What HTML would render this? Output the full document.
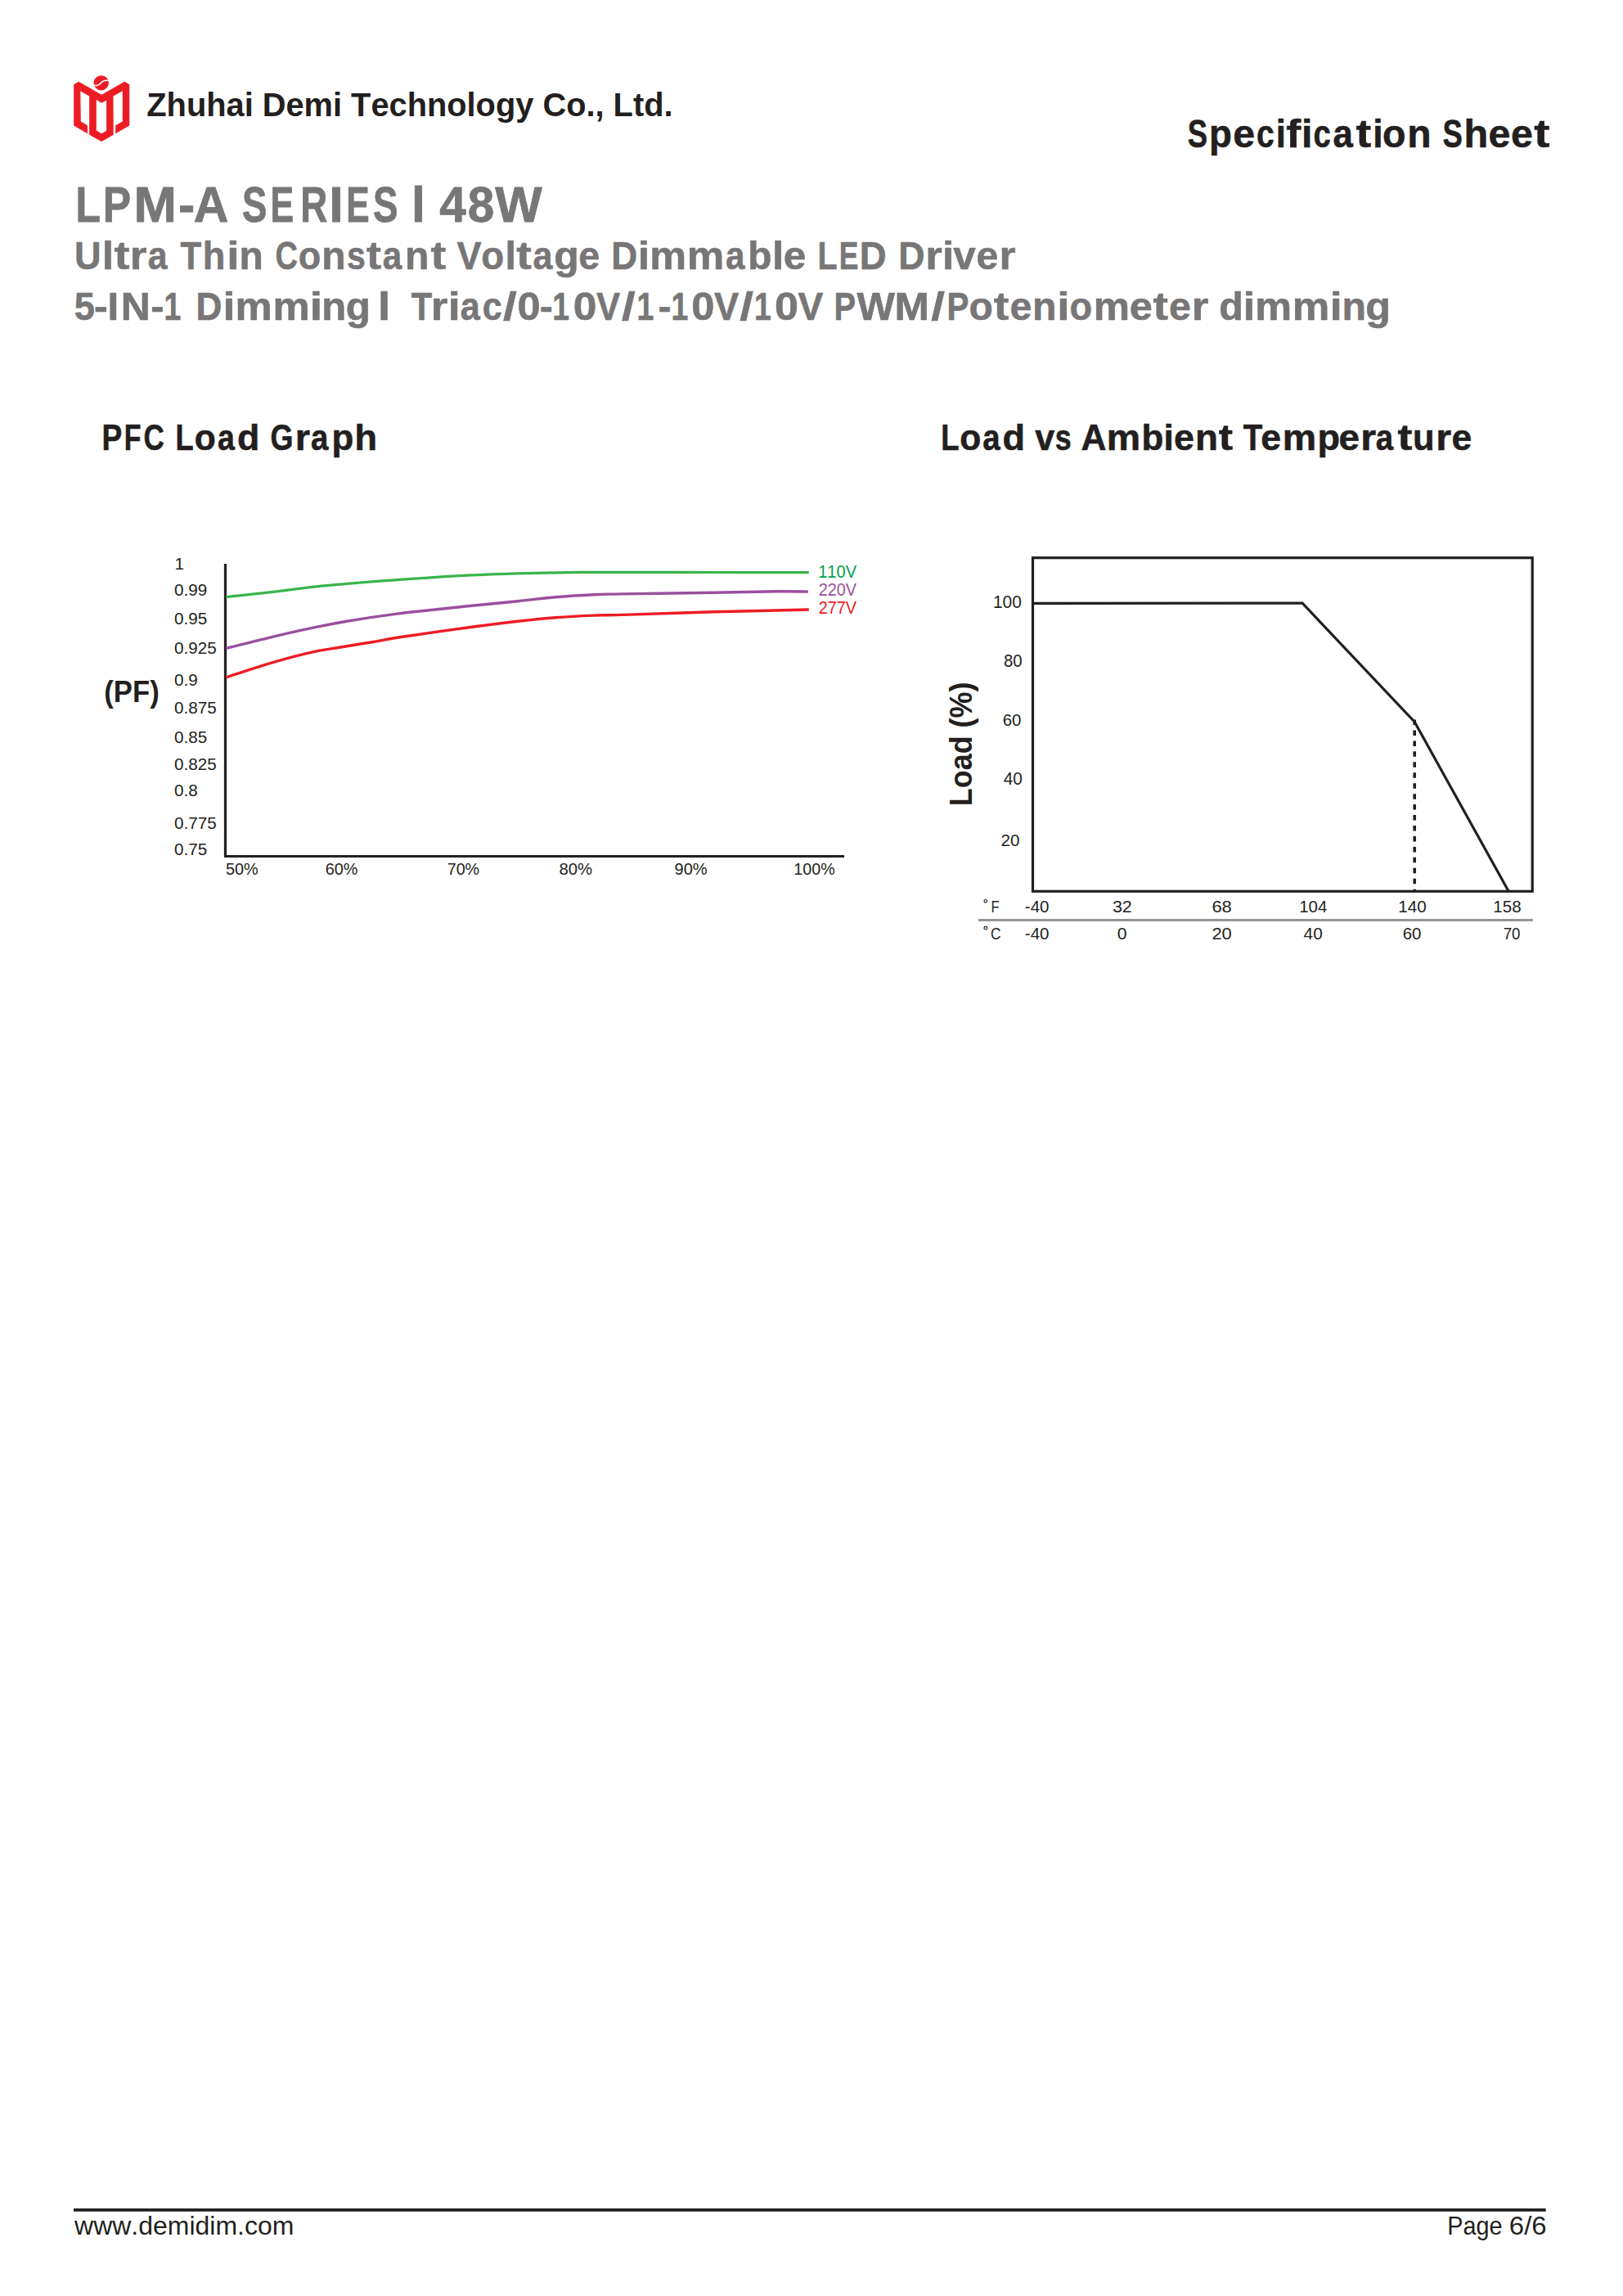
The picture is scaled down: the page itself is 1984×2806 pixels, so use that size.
<!DOCTYPE html>
<html><head><meta charset="utf-8"><title>LPM-A Series 48W Specification Sheet</title>
<style>
html,body{margin:0;padding:0;background:#fff;}
body{width:1984px;height:2806px;overflow:hidden;position:relative;}
svg.page{position:absolute;left:0;top:0;}
svg text{font-family:"Liberation Sans",sans-serif;white-space:pre;font-kerning:none;}
</style></head>
<body>
<svg class="page" width="1984" height="2806" viewBox="0 0 1984 2806">
<svg x="85" y="88" width="80" height="90" viewBox="0 0 1623 1826">
<path fill="#ed1c24" fill-rule="evenodd" d="M105 310 L225 240 L795 565 L1365 240 L1485 310 L1485 1330 L1140 1525 L1140 1325 L1315 1225 L1315 470 L1085 600 L1090 1555 L795 1725 L490 1555 L490 600 L270 470 L280 1225 L445 1325 L445 1525 L105 1330 Z M665 690 L795 765 L915 705 L915 1455 L795 1525 L665 1450 Z"/>
<circle cx="786" cy="271" r="186" fill="#ed1c24"/>
<path d="M595 322 C650 345 705 342 745 305 C780 268 810 232 850 216 C890 203 930 205 985 213" fill="none" stroke="#fff" stroke-width="32"/>
</svg>

<path d="M275.5 689 V1046.5 H1032" fill="none" stroke="#231f20" stroke-width="3.2"/>
<path d="M276.20 729.70 C285.43 728.68 312.10 725.85 331.60 723.60 C351.10 721.35 372.67 718.33 393.20 716.20 C413.73 714.07 434.50 712.40 454.80 710.80 C475.10 709.20 495.53 707.88 515.00 706.60 C534.47 705.32 551.90 704.07 571.60 703.10 C591.30 702.13 612.67 701.38 633.20 700.80 C653.73 700.22 673.67 699.83 694.80 699.60 C715.93 699.37 730.13 699.42 760.00 699.40 C789.87 699.38 835.87 699.47 874.00 699.50 C912.13 699.53 969.67 699.58 988.80 699.60" fill="none" stroke="#39b54a" stroke-width="3.2"/>
<path d="M276.20 792.40 C283.38 790.62 303.90 785.42 319.30 781.70 C334.70 777.98 351.15 773.83 368.60 770.10 C386.05 766.37 404.50 762.63 424.00 759.30 C443.50 755.97 461.00 753.18 485.60 750.10 C510.20 747.02 547.00 743.37 571.60 740.80 C596.20 738.23 615.23 736.55 633.20 734.70 C651.17 732.85 664.00 731.03 679.40 729.70 C694.80 728.37 712.17 727.33 725.60 726.70 C739.03 726.07 735.40 726.32 760.00 725.90 C784.60 725.48 841.50 724.72 873.20 724.20 C904.90 723.68 931.07 722.98 950.20 722.80 C969.33 722.62 981.70 723.05 988.00 723.10" fill="none" stroke="#9b4f9f" stroke-width="3.4"/>
<path d="M276.20 827.90 C285.43 824.93 314.67 815.12 331.60 810.10 C348.53 805.08 363.42 801.03 377.80 797.80 C392.18 794.57 405.07 792.88 417.90 790.70 C430.73 788.52 442.48 786.77 454.80 784.70 C467.12 782.63 472.33 781.25 491.80 778.30 C511.27 775.35 548.03 770.17 571.60 767.00 C595.17 763.83 615.23 761.35 633.20 759.30 C651.17 757.25 664.00 755.90 679.40 754.70 C694.80 753.50 712.17 752.65 725.60 752.10 C739.03 751.55 735.40 752.12 760.00 751.40 C784.60 750.68 835.07 748.87 873.20 747.80 C911.33 746.73 969.53 745.47 988.80 745.00" fill="none" stroke="#ed1c24" stroke-width="3.4"/>
<rect x="1262.5" y="681.7" width="610.7" height="407.6" fill="none" stroke="#231f20" stroke-width="3.2"/>
<line x1="1729.2" y1="879.5" x2="1729.2" y2="1089" stroke="#231f20" stroke-width="3.6" stroke-dasharray="6.5 6.45"/>
<polyline points="1262.5,737.3 1592.1,737.2 1729.2,882.2 1844,1089" fill="none" stroke="#231f20" stroke-width="3.2"/>
<line x1="1196" y1="1124.4" x2="1873.8" y2="1124.4" stroke="#939598" stroke-width="3"/>
<line x1="90" y1="2700.9" x2="1889.7" y2="2700.9" stroke="#231f20" stroke-width="3.6"/>
<circle cx="1204.8" cy="1101.3" r="1.8" fill="none" stroke="#231f20" stroke-width="1.2"/>
<circle cx="1204.8" cy="1134.2" r="1.8" fill="none" stroke="#231f20" stroke-width="1.2"/>

<text transform="translate(179.31 142.00) scale(0.9707 1)" font-size="41.00" font-weight="bold" fill="#231f20">Zhuhai Demi Technology Co., Ltd.</text>
<text transform="translate(1451.66 180.30) scale(0.7726 1)" font-size="47.26" font-weight="bold" fill="#231f20" stroke="#231f20" stroke-width="0.60" stroke-linejoin="round">S</text>
<text transform="translate(1477.99 180.30) scale(0.9658 1)" font-size="47.26" font-weight="bold" fill="#231f20" stroke="#231f20" stroke-width="0.60" stroke-linejoin="round">p</text>
<text transform="translate(1507.32 180.30) scale(1.0209 1)" font-size="47.26" font-weight="bold" fill="#231f20" stroke="#231f20" stroke-width="0.60" stroke-linejoin="round">e</text>
<text transform="translate(1535.88 180.30) scale(0.8242 1)" font-size="47.26" font-weight="bold" fill="#231f20" stroke="#231f20" stroke-width="0.60" stroke-linejoin="round">c</text>
<text transform="translate(1559.65 180.30) scale(0.9253 1)" font-size="47.26" font-weight="bold" fill="#231f20" stroke="#231f20" stroke-width="0.60" stroke-linejoin="round">i</text>
<text transform="translate(1572.28 180.30) scale(1.1382 1)" font-size="47.26" font-weight="bold" fill="#231f20" stroke="#231f20" stroke-width="0.60" stroke-linejoin="round">f</text>
<text transform="translate(1591.04 180.30) scale(1.0178 1)" font-size="47.26" font-weight="bold" fill="#231f20" stroke="#231f20" stroke-width="0.60" stroke-linejoin="round">i</text>
<text transform="translate(1605.50 180.30) scale(0.8111 1)" font-size="47.26" font-weight="bold" fill="#231f20" stroke="#231f20" stroke-width="0.60" stroke-linejoin="round">c</text>
<text transform="translate(1629.62 180.30) scale(0.9246 1)" font-size="47.26" font-weight="bold" fill="#231f20" stroke="#231f20" stroke-width="0.60" stroke-linejoin="round">a</text>
<text transform="translate(1657.42 180.30) scale(1.1862 1)" font-size="47.26" font-weight="bold" fill="#231f20" stroke="#231f20" stroke-width="0.60" stroke-linejoin="round">t</text>
<text transform="translate(1678.20 180.30) scale(0.9407 1)" font-size="47.26" font-weight="bold" fill="#231f20" stroke="#231f20" stroke-width="0.60" stroke-linejoin="round">i</text>
<text transform="translate(1690.08 180.30) scale(0.9850 1)" font-size="47.26" font-weight="bold" fill="#231f20" stroke="#231f20" stroke-width="0.60" stroke-linejoin="round">o</text>
<text transform="translate(1720.33 180.30) scale(1.0165 1)" font-size="47.26" font-weight="bold" fill="#231f20" stroke="#231f20" stroke-width="0.60" stroke-linejoin="round">n</text>
<text transform="translate(1763.56 180.30) scale(0.7726 1)" font-size="47.26" font-weight="bold" fill="#231f20" stroke="#231f20" stroke-width="0.60" stroke-linejoin="round">S</text>
<text transform="translate(1789.40 180.30) scale(1.0292 1)" font-size="47.26" font-weight="bold" fill="#231f20" stroke="#231f20" stroke-width="0.60" stroke-linejoin="round">h</text>
<text transform="translate(1819.42 180.30) scale(1.0209 1)" font-size="47.26" font-weight="bold" fill="#231f20" stroke="#231f20" stroke-width="0.60" stroke-linejoin="round">e</text>
<text transform="translate(1847.12 180.30) scale(1.0209 1)" font-size="47.26" font-weight="bold" fill="#231f20" stroke="#231f20" stroke-width="0.60" stroke-linejoin="round">e</text>
<text transform="translate(1875.30 180.30) scale(1.2205 1)" font-size="47.26" font-weight="bold" fill="#231f20" stroke="#231f20" stroke-width="0.60" stroke-linejoin="round">t</text>
<text transform="translate(92.48 270.59) scale(0.8130 1)" font-size="61.31" font-weight="bold" fill="#787677" stroke="#787677" stroke-width="0.82" stroke-linejoin="round">L</text>
<text transform="translate(125.86 270.59) scale(0.8410 1)" font-size="61.31" font-weight="bold" fill="#787677" stroke="#787677" stroke-width="0.82" stroke-linejoin="round">P</text>
<text transform="translate(163.45 270.59) scale(1.0260 1)" font-size="61.31" font-weight="bold" fill="#787677" stroke="#787677" stroke-width="0.82" stroke-linejoin="round">M</text>
<text transform="translate(218.04 270.59) scale(0.9880 1)" font-size="61.31" font-weight="bold" fill="#787677" stroke="#787677" stroke-width="0.82" stroke-linejoin="round">-</text>
<text transform="translate(236.64 270.59) scale(0.9623 1)" font-size="61.31" font-weight="bold" fill="#787677" stroke="#787677" stroke-width="0.82" stroke-linejoin="round">A</text>
<text transform="translate(296.00 270.59) scale(0.7427 1)" font-size="61.31" font-weight="bold" fill="#787677" stroke="#787677" stroke-width="0.82" stroke-linejoin="round">S</text>
<text transform="translate(330.53 270.59) scale(0.7030 1)" font-size="61.31" font-weight="bold" fill="#787677" stroke="#787677" stroke-width="0.82" stroke-linejoin="round">E</text>
<text transform="translate(367.15 270.59) scale(0.7472 1)" font-size="61.31" font-weight="bold" fill="#787677" stroke="#787677" stroke-width="0.82" stroke-linejoin="round">R</text>
<text transform="translate(402.31 270.59) scale(1.0260 1)" font-size="61.31" font-weight="bold" fill="#787677" stroke="#787677" stroke-width="0.82" stroke-linejoin="round">I</text>
<text transform="translate(423.26 270.59) scale(0.6943 1)" font-size="61.31" font-weight="bold" fill="#787677" stroke="#787677" stroke-width="0.82" stroke-linejoin="round">E</text>
<text transform="translate(455.99 270.59) scale(0.7454 1)" font-size="61.31" font-weight="bold" fill="#787677" stroke="#787677" stroke-width="0.82" stroke-linejoin="round">S</text>
<text transform="translate(502.95 270.59) scale(0.9962 1)" font-size="61.31" font-weight="bold" fill="#787677" stroke="#787677" stroke-width="0.82" stroke-linejoin="round">l</text>
<text transform="translate(537.22 270.59) scale(0.9555 1)" font-size="61.31" font-weight="bold" fill="#787677" stroke="#787677" stroke-width="0.82" stroke-linejoin="round">4</text>
<text transform="translate(571.76 270.59) scale(0.9509 1)" font-size="61.31" font-weight="bold" fill="#787677" stroke="#787677" stroke-width="0.82" stroke-linejoin="round">8</text>
<text transform="translate(605.15 270.59) scale(0.9936 1)" font-size="61.31" font-weight="bold" fill="#787677" stroke="#787677" stroke-width="0.82" stroke-linejoin="round">W</text>
<text transform="translate(91.09 329.00) scale(0.9204 1)" font-size="48.98" font-weight="bold" fill="#787677" stroke="#787677" stroke-width="0.60" stroke-linejoin="round">U</text>
<text transform="translate(124.79 329.00) scale(1.0564 1)" font-size="48.98" font-weight="bold" fill="#787677" stroke="#787677" stroke-width="0.60" stroke-linejoin="round">l</text>
<text transform="translate(139.49 329.00) scale(1.1605 1)" font-size="48.98" font-weight="bold" fill="#787677" stroke="#787677" stroke-width="0.60" stroke-linejoin="round">t</text>
<text transform="translate(158.79 329.00) scale(1.0867 1)" font-size="48.98" font-weight="bold" fill="#787677" stroke="#787677" stroke-width="0.60" stroke-linejoin="round">r</text>
<text transform="translate(180.75 329.00) scale(0.8730 1)" font-size="48.98" font-weight="bold" fill="#787677" stroke="#787677" stroke-width="0.60" stroke-linejoin="round">a</text>
<text transform="translate(220.43 329.00) scale(0.8598 1)" font-size="48.98" font-weight="bold" fill="#787677" stroke="#787677" stroke-width="0.60" stroke-linejoin="round">T</text>
<text transform="translate(247.74 329.00) scale(0.9249 1)" font-size="48.98" font-weight="bold" fill="#787677" stroke="#787677" stroke-width="0.60" stroke-linejoin="round">h</text>
<text transform="translate(277.33 329.00) scale(1.1308 1)" font-size="48.98" font-weight="bold" fill="#787677" stroke="#787677" stroke-width="0.60" stroke-linejoin="round">i</text>
<text transform="translate(292.43 329.00) scale(0.9808 1)" font-size="48.98" font-weight="bold" fill="#787677" stroke="#787677" stroke-width="0.60" stroke-linejoin="round">n</text>
<text transform="translate(336.44 329.00) scale(0.7744 1)" font-size="48.98" font-weight="bold" fill="#787677" stroke="#787677" stroke-width="0.60" stroke-linejoin="round">C</text>
<text transform="translate(364.74 329.00) scale(0.9197 1)" font-size="48.98" font-weight="bold" fill="#787677" stroke="#787677" stroke-width="0.60" stroke-linejoin="round">o</text>
<text transform="translate(393.32 329.00) scale(0.9850 1)" font-size="48.98" font-weight="bold" fill="#787677" stroke="#787677" stroke-width="0.60" stroke-linejoin="round">n</text>
<text transform="translate(424.06 329.00) scale(0.8379 1)" font-size="48.98" font-weight="bold" fill="#787677" stroke="#787677" stroke-width="0.60" stroke-linejoin="round">s</text>
<text transform="translate(447.94 329.00) scale(1.1048 1)" font-size="48.98" font-weight="bold" fill="#787677" stroke="#787677" stroke-width="0.60" stroke-linejoin="round">t</text>
<text transform="translate(467.66 329.00) scale(0.8615 1)" font-size="48.98" font-weight="bold" fill="#787677" stroke="#787677" stroke-width="0.60" stroke-linejoin="round">a</text>
<text transform="translate(495.02 329.00) scale(0.9850 1)" font-size="48.98" font-weight="bold" fill="#787677" stroke="#787677" stroke-width="0.60" stroke-linejoin="round">n</text>
<text transform="translate(526.51 329.00) scale(1.1511 1)" font-size="48.98" font-weight="bold" fill="#787677" stroke="#787677" stroke-width="0.60" stroke-linejoin="round">t</text>
<text transform="translate(558.49 329.00) scale(0.9187 1)" font-size="48.98" font-weight="bold" fill="#787677" stroke="#787677" stroke-width="0.60" stroke-linejoin="round">V</text>
<text transform="translate(588.21 329.00) scale(0.9351 1)" font-size="48.98" font-weight="bold" fill="#787677" stroke="#787677" stroke-width="0.60" stroke-linejoin="round">o</text>
<text transform="translate(617.39 329.00) scale(0.9969 1)" font-size="48.98" font-weight="bold" fill="#787677" stroke="#787677" stroke-width="0.60" stroke-linejoin="round">l</text>
<text transform="translate(631.22 329.00) scale(1.1379 1)" font-size="48.98" font-weight="bold" fill="#787677" stroke="#787677" stroke-width="0.60" stroke-linejoin="round">t</text>
<text transform="translate(651.44 329.00) scale(0.8806 1)" font-size="48.98" font-weight="bold" fill="#787677" stroke="#787677" stroke-width="0.60" stroke-linejoin="round">a</text>
<text transform="translate(677.35 329.00) scale(1.0189 1)" font-size="48.98" font-weight="bold" fill="#787677" stroke="#787677" stroke-width="0.60" stroke-linejoin="round">g</text>
<text transform="translate(707.18 329.00) scale(0.9512 1)" font-size="48.98" font-weight="bold" fill="#787677" stroke="#787677" stroke-width="0.60" stroke-linejoin="round">e</text>
<text transform="translate(747.34 329.00) scale(0.9021 1)" font-size="48.98" font-weight="bold" fill="#787677" stroke="#787677" stroke-width="0.60" stroke-linejoin="round">D</text>
<text transform="translate(779.79 329.00) scale(1.0564 1)" font-size="48.98" font-weight="bold" fill="#787677" stroke="#787677" stroke-width="0.60" stroke-linejoin="round">i</text>
<text transform="translate(794.27 329.00) scale(1.0298 1)" font-size="48.98" font-weight="bold" fill="#787677" stroke="#787677" stroke-width="0.60" stroke-linejoin="round">m</text>
<text transform="translate(839.82 329.00) scale(1.0459 1)" font-size="48.98" font-weight="bold" fill="#787677" stroke="#787677" stroke-width="0.60" stroke-linejoin="round">m</text>
<text transform="translate(886.96 329.00) scale(0.8615 1)" font-size="48.98" font-weight="bold" fill="#787677" stroke="#787677" stroke-width="0.60" stroke-linejoin="round">a</text>
<text transform="translate(914.25 329.00) scale(0.9764 1)" font-size="48.98" font-weight="bold" fill="#787677" stroke="#787677" stroke-width="0.60" stroke-linejoin="round">b</text>
<text transform="translate(943.89 329.00) scale(1.0564 1)" font-size="48.98" font-weight="bold" fill="#787677" stroke="#787677" stroke-width="0.60" stroke-linejoin="round">l</text>
<text transform="translate(957.86 329.00) scale(1.0146 1)" font-size="48.98" font-weight="bold" fill="#787677" stroke="#787677" stroke-width="0.60" stroke-linejoin="round">e</text>
<text transform="translate(999.57 329.00) scale(0.8036 1)" font-size="48.98" font-weight="bold" fill="#787677" stroke="#787677" stroke-width="0.60" stroke-linejoin="round">L</text>
<text transform="translate(1025.80 329.00) scale(0.7229 1)" font-size="48.98" font-weight="bold" fill="#787677" stroke="#787677" stroke-width="0.60" stroke-linejoin="round">E</text>
<text transform="translate(1050.76 329.00) scale(0.9287 1)" font-size="48.98" font-weight="bold" fill="#787677" stroke="#787677" stroke-width="0.60" stroke-linejoin="round">D</text>
<text transform="translate(1098.31 329.00) scale(0.9121 1)" font-size="48.98" font-weight="bold" fill="#787677" stroke="#787677" stroke-width="0.60" stroke-linejoin="round">D</text>
<text transform="translate(1131.21 329.00) scale(1.0800 1)" font-size="48.98" font-weight="bold" fill="#787677" stroke="#787677" stroke-width="0.60" stroke-linejoin="round">r</text>
<text transform="translate(1151.89 329.00) scale(1.0564 1)" font-size="48.98" font-weight="bold" fill="#787677" stroke="#787677" stroke-width="0.60" stroke-linejoin="round">i</text>
<text transform="translate(1165.31 329.00) scale(1.0099 1)" font-size="48.98" font-weight="bold" fill="#787677" stroke="#787677" stroke-width="0.60" stroke-linejoin="round">v</text>
<text transform="translate(1193.62 329.00) scale(0.9850 1)" font-size="48.98" font-weight="bold" fill="#787677" stroke="#787677" stroke-width="0.60" stroke-linejoin="round">e</text>
<text transform="translate(1221.40 329.00) scale(1.0535 1)" font-size="48.98" font-weight="bold" fill="#787677" stroke="#787677" stroke-width="0.60" stroke-linejoin="round">r</text>
<text transform="translate(90.81 390.70) scale(0.9485 1)" font-size="47.68" font-weight="bold" fill="#787677" stroke="#787677" stroke-width="0.60" stroke-linejoin="round">5</text>
<text transform="translate(114.93 390.70) scale(1.0574 1)" font-size="47.68" font-weight="bold" fill="#787677" stroke="#787677" stroke-width="0.60" stroke-linejoin="round">-</text>
<text transform="translate(131.60 390.70) scale(1.0339 1)" font-size="47.68" font-weight="bold" fill="#787677" stroke="#787677" stroke-width="0.60" stroke-linejoin="round">I</text>
<text transform="translate(147.87 390.70) scale(1.0454 1)" font-size="47.68" font-weight="bold" fill="#787677" stroke="#787677" stroke-width="0.60" stroke-linejoin="round">N</text>
<text transform="translate(184.28 390.70) scale(1.0326 1)" font-size="47.68" font-weight="bold" fill="#787677" stroke="#787677" stroke-width="0.60" stroke-linejoin="round">-</text>
<text transform="translate(200.48 390.70) scale(0.7853 1)" font-size="47.68" font-weight="bold" fill="#787677" stroke="#787677" stroke-width="0.60" stroke-linejoin="round">1</text>
<text transform="translate(239.44 390.70) scale(0.9269 1)" font-size="47.68" font-weight="bold" fill="#787677" stroke="#787677" stroke-width="0.60" stroke-linejoin="round">D</text>
<text transform="translate(272.53 390.70) scale(1.1313 1)" font-size="47.68" font-weight="bold" fill="#787677" stroke="#787677" stroke-width="0.60" stroke-linejoin="round">i</text>
<text transform="translate(287.55 390.70) scale(1.0664 1)" font-size="47.68" font-weight="bold" fill="#787677" stroke="#787677" stroke-width="0.60" stroke-linejoin="round">m</text>
<text transform="translate(333.45 390.70) scale(1.0664 1)" font-size="47.68" font-weight="bold" fill="#787677" stroke="#787677" stroke-width="0.60" stroke-linejoin="round">m</text>
<text transform="translate(378.73 390.70) scale(1.1618 1)" font-size="47.68" font-weight="bold" fill="#787677" stroke="#787677" stroke-width="0.60" stroke-linejoin="round">i</text>
<text transform="translate(393.26 390.70) scale(1.0294 1)" font-size="47.68" font-weight="bold" fill="#787677" stroke="#787677" stroke-width="0.60" stroke-linejoin="round">n</text>
<text transform="translate(422.68 390.70) scale(1.0343 1)" font-size="47.68" font-weight="bold" fill="#787677" stroke="#787677" stroke-width="0.60" stroke-linejoin="round">g</text>
<text transform="translate(461.98 390.70) scale(1.1465 1)" font-size="47.68" font-weight="bold" fill="#787677" stroke="#787677" stroke-width="0.60" stroke-linejoin="round">l</text>
<text transform="translate(502.73 390.70) scale(0.8727 1)" font-size="47.68" font-weight="bold" fill="#787677" stroke="#787677" stroke-width="0.60" stroke-linejoin="round">T</text>
<text transform="translate(526.71 390.70) scale(1.1097 1)" font-size="47.68" font-weight="bold" fill="#787677" stroke="#787677" stroke-width="0.60" stroke-linejoin="round">r</text>
<text transform="translate(547.73 390.70) scale(1.1313 1)" font-size="47.68" font-weight="bold" fill="#787677" stroke="#787677" stroke-width="0.60" stroke-linejoin="round">i</text>
<text transform="translate(562.84 390.70) scale(0.9048 1)" font-size="47.68" font-weight="bold" fill="#787677" stroke="#787677" stroke-width="0.60" stroke-linejoin="round">a</text>
<text transform="translate(589.82 390.70) scale(0.9030 1)" font-size="47.68" font-weight="bold" fill="#787677" stroke="#787677" stroke-width="0.60" stroke-linejoin="round">c</text>
<text transform="translate(615.05 390.70) scale(1.2606 1)" font-size="47.68" font-weight="bold" fill="#787677" stroke="#787677" stroke-width="0.60" stroke-linejoin="round">/</text>
<text transform="translate(632.60 390.70) scale(1.0629 1)" font-size="47.68" font-weight="bold" fill="#787677" stroke="#787677" stroke-width="0.60" stroke-linejoin="round">0</text>
<text transform="translate(659.72 390.70) scale(1.0078 1)" font-size="47.68" font-weight="bold" fill="#787677" stroke="#787677" stroke-width="0.60" stroke-linejoin="round">-</text>
<text transform="translate(675.18 390.70) scale(0.7853 1)" font-size="47.68" font-weight="bold" fill="#787677" stroke="#787677" stroke-width="0.60" stroke-linejoin="round">1</text>
<text transform="translate(700.66 390.70) scale(1.0805 1)" font-size="47.68" font-weight="bold" fill="#787677" stroke="#787677" stroke-width="0.60" stroke-linejoin="round">0</text>
<text transform="translate(729.10 390.70) scale(0.9182 1)" font-size="47.68" font-weight="bold" fill="#787677" stroke="#787677" stroke-width="0.60" stroke-linejoin="round">V</text>
<text transform="translate(760.00 390.70) scale(1.2606 1)" font-size="47.68" font-weight="bold" fill="#787677" stroke="#787677" stroke-width="0.60" stroke-linejoin="round">/</text>
<text transform="translate(778.48 390.70) scale(0.7853 1)" font-size="47.68" font-weight="bold" fill="#787677" stroke="#787677" stroke-width="0.60" stroke-linejoin="round">1</text>
<text transform="translate(804.62 390.70) scale(1.0078 1)" font-size="47.68" font-weight="bold" fill="#787677" stroke="#787677" stroke-width="0.60" stroke-linejoin="round">-</text>
<text transform="translate(820.53 390.70) scale(0.7853 1)" font-size="47.68" font-weight="bold" fill="#787677" stroke="#787677" stroke-width="0.60" stroke-linejoin="round">1</text>
<text transform="translate(845.30 390.70) scale(1.0629 1)" font-size="47.68" font-weight="bold" fill="#787677" stroke="#787677" stroke-width="0.60" stroke-linejoin="round">0</text>
<text transform="translate(872.89 390.70) scale(0.9535 1)" font-size="47.68" font-weight="bold" fill="#787677" stroke="#787677" stroke-width="0.60" stroke-linejoin="round">V</text>
<text transform="translate(904.35 390.70) scale(1.2606 1)" font-size="47.68" font-weight="bold" fill="#787677" stroke="#787677" stroke-width="0.60" stroke-linejoin="round">/</text>
<text transform="translate(921.98 390.70) scale(0.7853 1)" font-size="47.68" font-weight="bold" fill="#787677" stroke="#787677" stroke-width="0.60" stroke-linejoin="round">1</text>
<text transform="translate(946.94 390.70) scale(1.0938 1)" font-size="47.68" font-weight="bold" fill="#787677" stroke="#787677" stroke-width="0.60" stroke-linejoin="round">0</text>
<text transform="translate(975.58 390.70) scale(0.9696 1)" font-size="47.68" font-weight="bold" fill="#787677" stroke="#787677" stroke-width="0.60" stroke-linejoin="round">V</text>
<text transform="translate(1019.54 390.70) scale(0.8339 1)" font-size="47.68" font-weight="bold" fill="#787677" stroke="#787677" stroke-width="0.60" stroke-linejoin="round">P</text>
<text transform="translate(1047.55 390.70) scale(1.0333 1)" font-size="47.68" font-weight="bold" fill="#787677" stroke="#787677" stroke-width="0.60" stroke-linejoin="round">W</text>
<text transform="translate(1093.49 390.70) scale(1.0679 1)" font-size="47.68" font-weight="bold" fill="#787677" stroke="#787677" stroke-width="0.60" stroke-linejoin="round">M</text>
<text transform="translate(1138.35 390.70) scale(1.2606 1)" font-size="47.68" font-weight="bold" fill="#787677" stroke="#787677" stroke-width="0.60" stroke-linejoin="round">/</text>
<text transform="translate(1157.40 390.70) scale(0.8451 1)" font-size="47.68" font-weight="bold" fill="#787677" stroke="#787677" stroke-width="0.60" stroke-linejoin="round">P</text>
<text transform="translate(1184.42 390.70) scale(1.0080 1)" font-size="47.68" font-weight="bold" fill="#787677" stroke="#787677" stroke-width="0.60" stroke-linejoin="round">o</text>
<text transform="translate(1214.82 390.70) scale(1.1691 1)" font-size="47.68" font-weight="bold" fill="#787677" stroke="#787677" stroke-width="0.60" stroke-linejoin="round">t</text>
<text transform="translate(1234.42 390.70) scale(1.0120 1)" font-size="47.68" font-weight="bold" fill="#787677" stroke="#787677" stroke-width="0.60" stroke-linejoin="round">e</text>
<text transform="translate(1262.12 390.70) scale(1.0120 1)" font-size="47.68" font-weight="bold" fill="#787677" stroke="#787677" stroke-width="0.60" stroke-linejoin="round">n</text>
<text transform="translate(1292.23 390.70) scale(1.1618 1)" font-size="47.68" font-weight="bold" fill="#787677" stroke="#787677" stroke-width="0.60" stroke-linejoin="round">i</text>
<text transform="translate(1307.43 390.70) scale(0.9489 1)" font-size="47.68" font-weight="bold" fill="#787677" stroke="#787677" stroke-width="0.60" stroke-linejoin="round">o</text>
<text transform="translate(1336.72 390.70) scale(1.0443 1)" font-size="47.68" font-weight="bold" fill="#787677" stroke="#787677" stroke-width="0.60" stroke-linejoin="round">m</text>
<text transform="translate(1380.83 390.70) scale(1.0598 1)" font-size="47.68" font-weight="bold" fill="#787677" stroke="#787677" stroke-width="0.60" stroke-linejoin="round">e</text>
<text transform="translate(1409.42 390.70) scale(1.1623 1)" font-size="47.68" font-weight="bold" fill="#787677" stroke="#787677" stroke-width="0.60" stroke-linejoin="round">t</text>
<text transform="translate(1429.02 390.70) scale(1.0120 1)" font-size="47.68" font-weight="bold" fill="#787677" stroke="#787677" stroke-width="0.60" stroke-linejoin="round">e</text>
<text transform="translate(1456.71 390.70) scale(1.1097 1)" font-size="47.68" font-weight="bold" fill="#787677" stroke="#787677" stroke-width="0.60" stroke-linejoin="round">r</text>
<text transform="translate(1490.31 390.70) scale(1.0157 1)" font-size="47.68" font-weight="bold" fill="#787677" stroke="#787677" stroke-width="0.60" stroke-linejoin="round">d</text>
<text transform="translate(1519.79 390.70) scale(1.0854 1)" font-size="47.68" font-weight="bold" fill="#787677" stroke="#787677" stroke-width="0.60" stroke-linejoin="round">i</text>
<text transform="translate(1534.27 390.70) scale(1.0581 1)" font-size="47.68" font-weight="bold" fill="#787677" stroke="#787677" stroke-width="0.60" stroke-linejoin="round">m</text>
<text transform="translate(1579.82 390.70) scale(1.0746 1)" font-size="47.68" font-weight="bold" fill="#787677" stroke="#787677" stroke-width="0.60" stroke-linejoin="round">m</text>
<text transform="translate(1625.63 390.70) scale(1.1313 1)" font-size="47.68" font-weight="bold" fill="#787677" stroke="#787677" stroke-width="0.60" stroke-linejoin="round">i</text>
<text transform="translate(1640.42 390.70) scale(1.0120 1)" font-size="47.68" font-weight="bold" fill="#787677" stroke="#787677" stroke-width="0.60" stroke-linejoin="round">n</text>
<text transform="translate(1669.24 390.70) scale(1.0552 1)" font-size="47.68" font-weight="bold" fill="#787677" stroke="#787677" stroke-width="0.60" stroke-linejoin="round">g</text>
<text transform="translate(124.52 549.70) scale(0.8316 1)" font-size="44.62" font-weight="bold" fill="#231f20" stroke="#231f20" stroke-width="0.60" stroke-linejoin="round">P</text>
<text transform="translate(151.83 549.70) scale(0.7598 1)" font-size="44.62" font-weight="bold" fill="#231f20" stroke="#231f20" stroke-width="0.60" stroke-linejoin="round">F</text>
<text transform="translate(175.46 549.70) scale(0.7849 1)" font-size="44.62" font-weight="bold" fill="#231f20" stroke="#231f20" stroke-width="0.60" stroke-linejoin="round">C</text>
<text transform="translate(214.58 549.70) scale(0.8122 1)" font-size="44.62" font-weight="bold" fill="#231f20" stroke="#231f20" stroke-width="0.60" stroke-linejoin="round">L</text>
<text transform="translate(237.84 549.70) scale(0.9549 1)" font-size="44.62" font-weight="bold" fill="#231f20" stroke="#231f20" stroke-width="0.60" stroke-linejoin="round">o</text>
<text transform="translate(266.10 549.70) scale(0.8406 1)" font-size="44.62" font-weight="bold" fill="#231f20" stroke="#231f20" stroke-width="0.60" stroke-linejoin="round">a</text>
<text transform="translate(289.97 549.70) scale(1.0006 1)" font-size="44.62" font-weight="bold" fill="#231f20" stroke="#231f20" stroke-width="0.60" stroke-linejoin="round">d</text>
<text transform="translate(330.42 549.70) scale(0.8070 1)" font-size="44.62" font-weight="bold" fill="#231f20" stroke="#231f20" stroke-width="0.60" stroke-linejoin="round">G</text>
<text transform="translate(360.63 549.70) scale(1.0511 1)" font-size="44.62" font-weight="bold" fill="#231f20" stroke="#231f20" stroke-width="0.60" stroke-linejoin="round">r</text>
<text transform="translate(380.07 549.70) scale(0.8616 1)" font-size="44.62" font-weight="bold" fill="#231f20" stroke="#231f20" stroke-width="0.60" stroke-linejoin="round">a</text>
<text transform="translate(405.51 549.70) scale(0.9828 1)" font-size="44.62" font-weight="bold" fill="#231f20" stroke="#231f20" stroke-width="0.60" stroke-linejoin="round">p</text>
<text transform="translate(433.55 549.70) scale(1.0105 1)" font-size="44.62" font-weight="bold" fill="#231f20" stroke="#231f20" stroke-width="0.60" stroke-linejoin="round">h</text>
<text transform="translate(1150.36 549.70) scale(0.8166 1)" font-size="44.62" font-weight="bold" fill="#231f20" stroke="#231f20" stroke-width="0.60" stroke-linejoin="round">L</text>
<text transform="translate(1173.34 549.70) scale(0.9549 1)" font-size="44.62" font-weight="bold" fill="#231f20" stroke="#231f20" stroke-width="0.60" stroke-linejoin="round">o</text>
<text transform="translate(1201.27 549.70) scale(0.8616 1)" font-size="44.62" font-weight="bold" fill="#231f20" stroke="#231f20" stroke-width="0.60" stroke-linejoin="round">a</text>
<text transform="translate(1225.55 549.70) scale(1.0095 1)" font-size="44.62" font-weight="bold" fill="#231f20" stroke="#231f20" stroke-width="0.60" stroke-linejoin="round">d</text>
<text transform="translate(1265.13 549.70) scale(0.9654 1)" font-size="44.62" font-weight="bold" fill="#231f20" stroke="#231f20" stroke-width="0.60" stroke-linejoin="round">v</text>
<text transform="translate(1289.84 549.70) scale(0.8031 1)" font-size="44.62" font-weight="bold" fill="#231f20" stroke="#231f20" stroke-width="0.60" stroke-linejoin="round">s</text>
<text transform="translate(1321.43 549.70) scale(0.9620 1)" font-size="44.62" font-weight="bold" fill="#231f20" stroke="#231f20" stroke-width="0.60" stroke-linejoin="round">A</text>
<text transform="translate(1352.73 549.70) scale(1.0421 1)" font-size="44.62" font-weight="bold" fill="#231f20" stroke="#231f20" stroke-width="0.60" stroke-linejoin="round">m</text>
<text transform="translate(1395.61 549.70) scale(0.9828 1)" font-size="44.62" font-weight="bold" fill="#231f20" stroke="#231f20" stroke-width="0.60" stroke-linejoin="round">b</text>
<text transform="translate(1422.50 549.70) scale(0.9963 1)" font-size="44.62" font-weight="bold" fill="#231f20" stroke="#231f20" stroke-width="0.60" stroke-linejoin="round">i</text>
<text transform="translate(1434.95 549.70) scale(1.0024 1)" font-size="44.62" font-weight="bold" fill="#231f20" stroke="#231f20" stroke-width="0.60" stroke-linejoin="round">e</text>
<text transform="translate(1460.88 549.70) scale(1.0256 1)" font-size="44.62" font-weight="bold" fill="#231f20" stroke="#231f20" stroke-width="0.60" stroke-linejoin="round">n</text>
<text transform="translate(1489.67 549.70) scale(1.1619 1)" font-size="44.62" font-weight="bold" fill="#231f20" stroke="#231f20" stroke-width="0.60" stroke-linejoin="round">t</text>
<text transform="translate(1519.77 549.70) scale(0.8639 1)" font-size="44.62" font-weight="bold" fill="#231f20" stroke="#231f20" stroke-width="0.60" stroke-linejoin="round">T</text>
<text transform="translate(1541.26 549.70) scale(0.9977 1)" font-size="44.62" font-weight="bold" fill="#231f20" stroke="#231f20" stroke-width="0.60" stroke-linejoin="round">e</text>
<text transform="translate(1567.63 549.70) scale(1.0421 1)" font-size="44.62" font-weight="bold" fill="#231f20" stroke="#231f20" stroke-width="0.60" stroke-linejoin="round">m</text>
<text transform="translate(1610.43 549.70) scale(1.0095 1)" font-size="44.62" font-weight="bold" fill="#231f20" stroke="#231f20" stroke-width="0.60" stroke-linejoin="round">p</text>
<text transform="translate(1636.51 549.70) scale(1.0256 1)" font-size="44.62" font-weight="bold" fill="#231f20" stroke="#231f20" stroke-width="0.60" stroke-linejoin="round">e</text>
<text transform="translate(1663.21 549.70) scale(1.0838 1)" font-size="44.62" font-weight="bold" fill="#231f20" stroke="#231f20" stroke-width="0.60" stroke-linejoin="round">r</text>
<text transform="translate(1681.87 549.70) scale(0.8616 1)" font-size="44.62" font-weight="bold" fill="#231f20" stroke="#231f20" stroke-width="0.60" stroke-linejoin="round">a</text>
<text transform="translate(1708.44 549.70) scale(1.2055 1)" font-size="44.62" font-weight="bold" fill="#231f20" stroke="#231f20" stroke-width="0.60" stroke-linejoin="round">t</text>
<text transform="translate(1726.90 549.70) scale(0.9745 1)" font-size="44.62" font-weight="bold" fill="#231f20" stroke="#231f20" stroke-width="0.60" stroke-linejoin="round">u</text>
<text transform="translate(1755.21 549.70) scale(1.0838 1)" font-size="44.62" font-weight="bold" fill="#231f20" stroke="#231f20" stroke-width="0.60" stroke-linejoin="round">r</text>
<text transform="translate(1774.46 549.70) scale(0.9977 1)" font-size="44.62" font-weight="bold" fill="#231f20" stroke="#231f20" stroke-width="0.60" stroke-linejoin="round">e</text>
<text transform="translate(212.89 799.40) scale(0.9895 1)" font-size="20.91" font-weight="normal" fill="#231f20">0.925</text>
<text transform="translate(212.89 728.20) scale(0.9895 1)" font-size="20.91" font-weight="normal" fill="#231f20">0.99</text>
<text transform="translate(212.89 763.20) scale(0.9895 1)" font-size="20.91" font-weight="normal" fill="#231f20">0.95</text>
<text transform="translate(212.89 838.20) scale(0.9895 1)" font-size="20.91" font-weight="normal" fill="#231f20">0.9</text>
<text transform="translate(212.89 872.10) scale(0.9895 1)" font-size="20.91" font-weight="normal" fill="#231f20">0.875</text>
<text transform="translate(212.89 907.80) scale(0.9895 1)" font-size="20.91" font-weight="normal" fill="#231f20">0.85</text>
<text transform="translate(212.89 941.00) scale(0.9895 1)" font-size="20.91" font-weight="normal" fill="#231f20">0.825</text>
<text transform="translate(212.89 973.20) scale(0.9895 1)" font-size="20.91" font-weight="normal" fill="#231f20">0.8</text>
<text transform="translate(212.89 1012.80) scale(0.9895 1)" font-size="20.91" font-weight="normal" fill="#231f20">0.775</text>
<text transform="translate(212.89 1044.70) scale(0.9895 1)" font-size="20.91" font-weight="normal" fill="#231f20">0.75</text>
<text transform="translate(213.42 696.00) scale(0.9895 1)" font-size="20.91" font-weight="normal" fill="#231f20">1</text>
<text transform="translate(127.27 858.30) scale(0.9512 1)" font-size="36.48" font-weight="bold" fill="#231f20">(PF)</text>
<text transform="translate(275.90 1069.00) scale(0.9636 1)" font-size="20.64" font-weight="normal" fill="#231f20">50%</text>
<text transform="translate(397.69 1069.00) scale(0.9783 1)" font-size="20.34" font-weight="normal" fill="#231f20">60%</text>
<text transform="translate(546.69 1069.00) scale(0.9540 1)" font-size="20.64" font-weight="normal" fill="#231f20">70%</text>
<text transform="translate(683.42 1069.00) scale(0.9976 1)" font-size="20.34" font-weight="normal" fill="#231f20">80%</text>
<text transform="translate(824.56 1069.00) scale(0.9865 1)" font-size="20.34" font-weight="normal" fill="#231f20">90%</text>
<text transform="translate(970.30 1069.00) scale(0.9548 1)" font-size="20.64" font-weight="normal" fill="#231f20">100%</text>
<text transform="translate(1000.17 706.00) scale(0.9478 1)" font-size="21.20" font-weight="normal" fill="#00a14b">110V</text>
<text transform="translate(1000.70 728.00) scale(0.9370 1)" font-size="21.20" font-weight="normal" fill="#9b51a0">220V</text>
<text transform="translate(1000.70 750.00) scale(0.9296 1)" font-size="21.37" font-weight="normal" fill="#ed1c24">277V</text>
<text transform="translate(1213.91 743.30) scale(0.9872 1)" font-size="21.20" font-weight="normal" fill="#231f20">100</text>
<text transform="translate(1226.91 815.30) scale(0.9621 1)" font-size="21.20" font-weight="normal" fill="#231f20">80</text>
<text transform="translate(1225.76 887.40) scale(0.9776 1)" font-size="20.91" font-weight="normal" fill="#231f20">60</text>
<text transform="translate(1226.83 959.20) scale(0.9748 1)" font-size="21.20" font-weight="normal" fill="#231f20">40</text>
<text transform="translate(1223.46 1034.10) scale(1.0263 1)" font-size="20.19" font-weight="normal" fill="#231f20">20</text>
<text transform="translate(1252.79 1115.00) scale(1.0104 1)" font-size="20.35" font-weight="normal" fill="#231f20">-40</text>
<text transform="translate(1359.88 1115.00) scale(1.0716 1)" font-size="20.05" font-weight="normal" fill="#231f20">32</text>
<text transform="translate(1481.38 1115.00) scale(1.0974 1)" font-size="20.05" font-weight="normal" fill="#231f20">68</text>
<text transform="translate(1588.24 1115.00) scale(1.0061 1)" font-size="20.35" font-weight="normal" fill="#231f20">104</text>
<text transform="translate(1709.23 1115.00) scale(1.0156 1)" font-size="20.35" font-weight="normal" fill="#231f20">140</text>
<text transform="translate(1825.34 1115.00) scale(1.0090 1)" font-size="20.35" font-weight="normal" fill="#231f20">158</text>
<text transform="translate(1252.79 1148.20) scale(1.0177 1)" font-size="20.20" font-weight="normal" fill="#231f20">-40</text>
<text transform="translate(1365.77 1148.20) scale(1.0614 1)" font-size="19.91" font-weight="normal" fill="#231f20">0</text>
<text transform="translate(1481.40 1148.20) scale(1.1000 1)" font-size="19.91" font-weight="normal" fill="#231f20">20</text>
<text transform="translate(1593.62 1148.20) scale(1.0273 1)" font-size="20.20" font-weight="normal" fill="#231f20">40</text>
<text transform="translate(1714.76 1148.20) scale(1.0268 1)" font-size="19.91" font-weight="normal" fill="#231f20">60</text>
<text transform="translate(1837.64 1148.20) scale(0.9250 1)" font-size="20.20" font-weight="normal" fill="#231f20">70</text>
<text transform="translate(1211.44 1115.00) scale(0.7918 1)" font-size="20.93" font-weight="normal" fill="#231f20">F</text>
<text transform="translate(1211.12 1148.20) scale(0.8725 1)" font-size="19.91" font-weight="normal" fill="#231f20">C</text>
<text transform="translate(91.05 2730.80) scale(1.0165 1)" font-size="31.47" font-weight="normal" fill="#231f20">www.demidim.com</text>
<text transform="translate(1769.24 2731.00) scale(0.9170 1)" font-size="31.40" font-weight="normal" fill="#231f20">Page</text>
<text transform="translate(1844.83 2731.00) scale(1.0499 1)" font-size="31.40" font-weight="normal" fill="#231f20">6/6</text>
<text transform="translate(1188.3 985.20) rotate(-90) scale(0.9472 1)" font-size="37.94" font-weight="bold" fill="#231f20">Load (%)</text>
</svg>
</body></html>
